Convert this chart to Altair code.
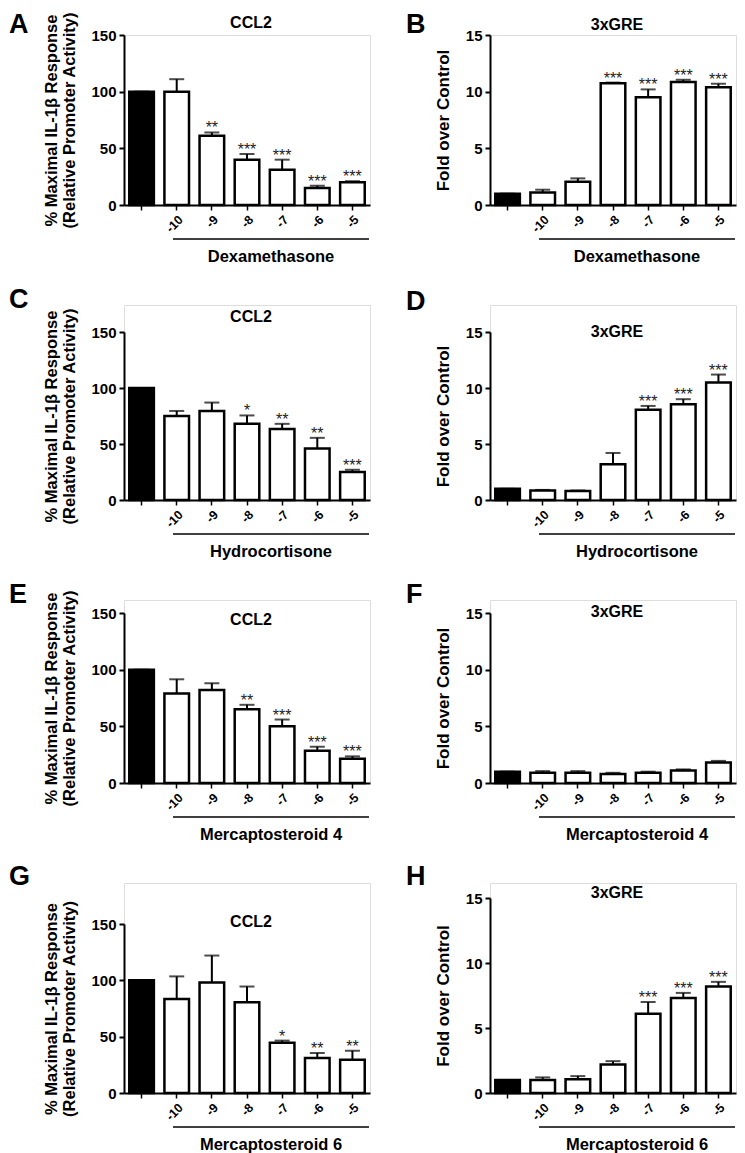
import altair as alt
import pandas as pd

FONT = "Liberation Sans"

cats = ["ctrl", "-10", "-9", "-8", "-7", "-6", "-5"]
fills = ["black", "white", "white", "white", "white", "white", "white"]

# Panel A: CCL2, Dexamethasone
a_mean = [100, 100, 61, 40, 31, 15, 20]
a_upper = [100, 111, 64, 45, 40, 17, 21]
a_sig = ["", "", "**", "***", "***", "***", "***"]
# Panel B: 3xGRE, Dexamethasone
b_mean = [1.0, 1.1, 2.05, 10.75, 9.5, 10.85, 10.4]
b_upper = [1.0, 1.35, 2.35, 10.8, 10.2, 11.05, 10.7]
b_sig = ["", "", "", "***", "***", "***", "***"]
# Panel C: CCL2, Hydrocortisone
c_mean = [100, 75, 79.5, 68, 63.5, 46, 25]
c_upper = [100, 79.5, 87, 75.5, 68, 55.5, 27]
c_sig = ["", "", "", "*", "**", "**", "***"]
# Panel D: 3xGRE, Hydrocortisone
d_mean = [1.0, 0.85, 0.8, 3.2, 8.05, 8.55, 10.5]
d_upper = [1.0, 0.9, 0.85, 4.2, 8.4, 9.0, 11.2]
d_sig = ["", "", "", "", "***", "***", "***"]
# Panel E: CCL2, Mercaptosteroid 4
e_mean = [100, 79, 82, 65, 50, 28.5, 21.5]
e_upper = [100, 91.5, 88, 69, 56, 32, 23.5]
e_sig = ["", "", "", "**", "***", "***", "***"]
# Panel F: 3xGRE, Mercaptosteroid 4
f_mean = [1.0, 0.9, 0.9, 0.8, 0.9, 1.1, 1.8]
f_upper = [1.0, 1.05, 1.05, 0.9, 1.0, 1.2, 1.95]
f_sig = ["", "", "", "", "", "", ""]
# Panel G: CCL2, Mercaptosteroid 6
g_mean = [100, 83.5, 98, 80.5, 44.5, 31, 29.5]
g_upper = [100, 103.5, 122, 94.5, 46.5, 35.5, 37.5]
g_sig = ["", "", "", "", "*", "**", "**"]
# Panel H: 3xGRE, Mercaptosteroid 6
h_mean = [1.0, 1.0, 1.05, 2.2, 6.1, 7.3, 8.2]
h_upper = [1.0, 1.2, 1.3, 2.45, 7.0, 7.7, 8.55]
h_sig = ["", "", "", "", "***", "***", "***"]

ccl2_title = ["% Maximal IL-1β Response", "(Relative Promoter Activity)"]
gre_title = "Fold over Control"
ccl2_ticks = [0, 50, 100, 150]
gre_ticks = [0, 5, 10, 15]

W = 246


def panel(letter, title, ytitle, ytitle_size, ymax, yvals, mean, upper, sig,
          drug, box_h, plot_h, letter_x, letter_y, title_y):
    df = pd.DataFrame({"cat": cats, "mean": mean, "upper": upper,
                       "sig": sig, "fill": fills})
    top = box_h - plot_h
    xenc = alt.X("cat:N", sort=cats,
                 scale=alt.Scale(paddingInner=0.3, paddingOuter=0.15),
                 axis=alt.Axis(title=None, labelAngle=-45,
                               labelExpr="datum.value == 'ctrl' ? '' : datum.value",
                               labelFontSize=12.5, labelFontWeight="bold",
                               labelColor="black", labelPadding=3,
                               domainColor="black", domainWidth=2,
                               tickColor="black", tickWidth=1.5, tickSize=5,
                               grid=False))
    yscale = alt.Scale(domain=[0, ymax], range=[box_h, top], nice=False)
    yaxis = alt.Axis(title=ytitle, values=yvals, grid=False,
                     domainColor="black", domainWidth=2,
                     tickColor="black", tickWidth=2, tickSize=5,
                     labelFontSize=15, labelFontWeight="bold",
                     labelColor="black", labelPadding=3,
                     titleFontSize=ytitle_size, titleFontWeight="bold",
                     titleColor="black", titlePadding=13)
    base = alt.Chart(df)
    bars = base.mark_bar(stroke="black", strokeWidth=2.5).encode(
        x=xenc,
        y=alt.Y("mean:Q", scale=yscale, axis=yaxis),
        fill=alt.Fill("fill:N", scale=None),
    )
    err = base.mark_rule(color="black", strokeWidth=2).encode(
        x=xenc, y=alt.Y("mean:Q", scale=yscale, axis=yaxis), y2="upper:Q")
    caps = base.mark_tick(color="black", thickness=2, size=15).encode(
        x=xenc, y=alt.Y("upper:Q", scale=yscale, axis=yaxis))
    stars = base.mark_text(fontSize=16, baseline="alphabetic", dy=1,
                           color="#222", font=FONT).encode(
        x=xenc, y=alt.Y("upper:Q", scale=yscale, axis=yaxis), text="sig:N")

    one = pd.DataFrame({"t": [letter], "ti": [title], "d": [drug]})
    ann = alt.Chart(one)
    let = ann.mark_text(fontSize=27, fontWeight="bold", align="left",
                        baseline="alphabetic", font=FONT, color="black").encode(
        x=alt.value(letter_x), y=alt.value(top + letter_y), text="t:N")
    tit = ann.mark_text(fontSize=16, fontWeight="bold", align="center",
                        baseline="alphabetic", font=FONT, color="black").encode(
        x=alt.value(W / 2 + 4), y=alt.value(top + title_y), text="ti:N")
    line = ann.mark_rule(color="black", strokeWidth=1.5).encode(
        x=alt.value(49), x2=alt.value(245), y=alt.value(box_h + 34))
    dlab = ann.mark_text(fontSize=16.5, fontWeight="bold", align="center",
                         baseline="alphabetic", font=FONT, color="black").encode(
        x=alt.value(147), y=alt.value(box_h + 57), text="d:N")

    return alt.layer(bars, err, caps, stars, let, tit, line, dlab).properties(
        width=W, height=box_h)


panels = [
    panel("A", "CCL2", ccl2_title, 16.5, 150, ccl2_ticks, a_mean, a_upper, a_sig,
          "Dexamethasone", 170, 170, -115, -2, -7),
    panel("B", "3xGRE", gre_title, 17, 15, gre_ticks, b_mean, b_upper, b_sig,
          "Dexamethasone", 170, 170, -84, -2, -5),
    panel("C", "CCL2", ccl2_title, 16.5, 150, ccl2_ticks, c_mean, c_upper, c_sig,
          "Hydrocortisone", 195, 168, -115, -24, -10),
    panel("D", "3xGRE", gre_title, 17, 15, gre_ticks, d_mean, d_upper, d_sig,
          "Hydrocortisone", 195, 168, -84, -22, 5),
    panel("E", "CCL2", ccl2_title, 16.5, 150, ccl2_ticks, e_mean, e_upper, e_sig,
          "Mercaptosteroid 4", 183, 170, -115, -10, 12),
    panel("F", "3xGRE", gre_title, 17, 15, gre_ticks, f_mean, f_upper, f_sig,
          "Mercaptosteroid 4", 183, 170, -84, -10, 4),
    panel("G", "CCL2", ccl2_title, 16.5, 150, ccl2_ticks, g_mean, g_upper, g_sig,
          "Mercaptosteroid 6", 210, 169, -115, -39, 3),
    panel("H", "3xGRE", gre_title, 17, 15, gre_ticks, h_mean, h_upper, h_sig,
          "Mercaptosteroid 6", 210, 195, -84, -13, 0),
]

chart = alt.concat(*panels, columns=2, spacing={"row": 100, "column": 120},
                   bounds="flush", align="each").properties(
    padding={"left": 0, "top": 2, "right": 0, "bottom": 0}
).configure_view(stroke=None).configure(font=FONT, background="white")

chart.save("out.html", embed_options={"renderer": "svg", "actions": False})
